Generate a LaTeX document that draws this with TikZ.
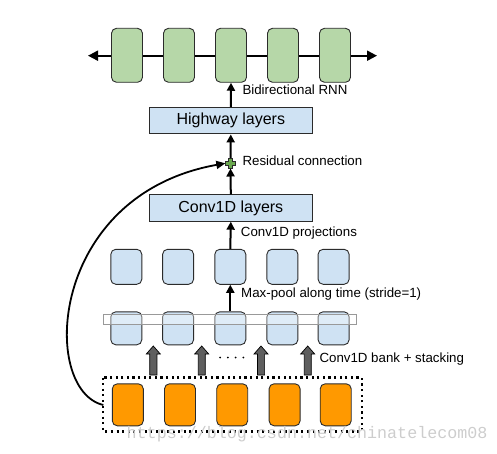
\documentclass[tikz,border=0pt]{standalone}
\usepackage{fontspec}
\setmainfont{Liberation Sans}
\newfontfamily\wmfont{Liberation Mono}
\usetikzlibrary{arrows.meta}
\definecolor{rnngreen}{HTML}{B6D7A8}
\definecolor{plusgreen}{HTML}{6AA84F}
\definecolor{lblue}{HTML}{CFE2F3}
\definecolor{inorange}{HTML}{FF9900}
\definecolor{edgecol}{HTML}{2B2B2B}
\definecolor{bankgray}{HTML}{5F5F5F}
\definecolor{wmgray}{HTML}{CDCDCD}
\tikzset{
  cell/.style={draw=edgecol, line width=0.9pt, rounded corners=5pt, minimum width=31pt, inner sep=0pt},
  rnncell/.style={cell, fill=rnngreen, minimum height=54pt},
  projcell/.style={cell, fill=lblue, minimum height=35pt},
  bankcell/.style={cell, fill=lblue, minimum height=33pt},
  inpcell/.style={cell, fill=inorange, minimum height=42pt},
  layerbox/.style={draw=edgecol, line width=0.9pt, fill=lblue, minimum width=163pt, minimum height=26.5pt, inner sep=0pt, font=\fontsize{16}{18}\selectfont},
  lbl/.style={anchor=west, inner sep=0pt, font=\fontsize{13.3}{15}\selectfont},
  flow/.style={line width=2pt, -{Triangle[length=8pt,width=8pt]}},
  bankarrow/.style={fill=bankgray, draw=black, line width=0.7pt},
}
\begin{document}
\begin{tikzpicture}[x=1pt,y=-1pt]
\useasboundingbox (0,0) rectangle (497,454);
% bidirectional line
\coordinate (lt) at (88,55.7);
\coordinate (rt) at (377,55.7);
\draw[line width=2pt, {Triangle[length=10pt,width=10pt]}-{Triangle[length=10pt,width=10pt]}] (lt) -- (rt);
% RNN cells
\foreach \i/\x in {1/127,2/179,3/231,4/283,5/335}
  \node[rnncell] (g\i) at (\x,55.3) {};
% layers
\node[layerbox] (hw) at (230.8,120.7) {Highway layers};
\node[layerbox] (cv) at (230.8,208) {Conv1D layers};
\node[minimum size=10pt, inner sep=0pt] (pl) at (230.5,163.3) {};
% projection row
\foreach \i/\x in {1/126.3,2/178.1,3/230.3,4/282.4,5/333.6}
  \node[projcell] (p\i) at (\x,266.8) {};
% bank row
\foreach \i/\x in {1/126.3,2/178.1,3/230.3,4/282.4,5/333.6}
  \node[bankcell] (b\i) at (\x,328.3) {};
\draw[draw=gray!80, line width=0.8pt, fill=white, fill opacity=0.35] (103.3,314) rectangle (356.7,324.3);
% inputs
\foreach \i/\x in {1/127.8,2/180,3/232.2,4/284.6,5/335.7}
  \node[inpcell] (o\i) at (\x,404.8) {};
\draw[line width=2.1pt, dash pattern=on 2.1pt off 3.5pt] (103.3,377.5) rectangle (361.7,431.5);
\coordinate (rs) at (103.3,405);
% bank arrows
\foreach \x in {153.3,201.7,261,307.7}
  \draw[bankarrow] (\x-3.6,375) -- (\x+3.6,375) -- (\x+3.6,354) -- (\x+7,354) -- (\x,346) -- (\x-7,354) -- (\x-3.6,354) -- cycle;
\foreach \x in {220,227.8,235.6,243.4}
  \fill (\x,357.5) circle (1pt);
% flow arrows
\draw[flow] (b3.north) -- (p3.south);
\draw[flow] (p3.north) -- (cv.south);
\draw[flow] (cv.north) -- (pl.south);
\draw[flow] (pl.north) -- (hw.south);
\draw[flow] (hw.north) -- (g3.south);
% residual
\draw[line width=1.8pt, -{Triangle[length=9pt,width=8pt]}] (rs) .. controls (40,390) and (48,195) .. (pl.west);
\draw[fill=plusgreen, draw=edgecol, line width=0.6pt] ([shift={(-1.9,-5.2)}]pl.center) -- ++(3.8,0) -- ++(0,3.3) -- ++(3.3,0) -- ++(0,3.8) -- ++(-3.3,0) -- ++(0,3.3) -- ++(-3.8,0) -- ++(0,-3.3) -- ++(-3.3,0) -- ++(0,-3.8) -- ++(3.3,0) -- cycle;
% labels
\node[lbl] (l1) at (242.3,89.3) {Bidirectional RNN};
\node[lbl] (l2) at (242.3,160.5) {Residual connection};
\node[lbl] (l3) at (240.7,233) {Conv1D projections};
\node[lbl] (l4) at (241,294.3) {Max-pool along time (stride=1)};
\node[lbl] (l5) at (319.3,359) {Conv1D bank + stacking};
% watermark
\node[anchor=west, inner sep=0pt, text=wmgray, font=\wmfont\fontsize{16.7}{18}\selectfont] (wm) at (126.5,434.5) {https://blog.csdn.net/chinatelecom08};
\end{tikzpicture}
\end{document}
